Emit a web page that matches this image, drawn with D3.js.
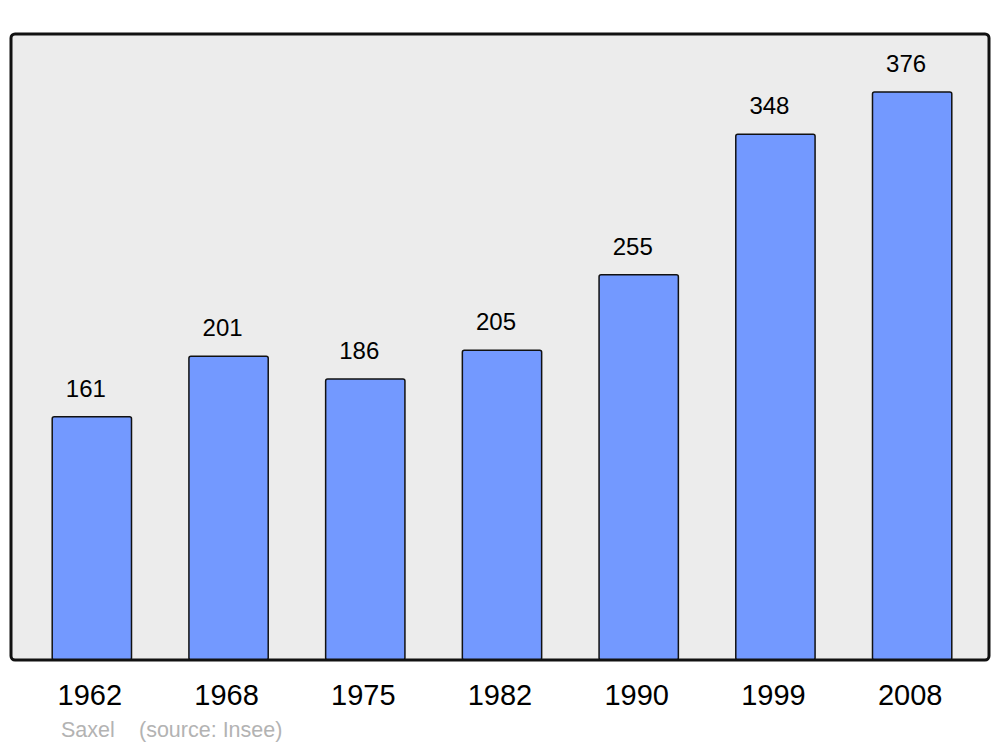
<!DOCTYPE html>
<html lang="fr">
<head>
<meta charset="utf-8">
<script src="https://cdn.jsdelivr.net/npm/d3@7/dist/d3.min.js"></script>
<style>
  body { margin: 0; background: #fff; }
  text { font-family: "Liberation Sans", Arial, sans-serif; }
</style>
</head>
<body>
<div id="chart"></div>
<script>
const years = ["1962", "1968", "1975", "1982", "1990", "1999", "2008"];
const population = [161, 201, 186, 205, 255, 348, 376];
const credits = ["Saxel", "(source: Insee)"];

const width = 1000, height = 747;

const svg = d3.select("#chart").append("svg")
    .attr("width", width)
    .attr("height", height);

// frame background
svg.append("rect")
    .attr("x", 11).attr("y", 34)
    .attr("width", 978).attr("height", 626)
    .attr("rx", 4)
    .style("fill", "#ececec");

const x = d3.scaleBand()
    .domain(years)
    .range([23.5, 980.5])
    .paddingInner(0.42)
    .paddingOuter(0.21);

const y = d3.scaleLinear()
    .domain([0, 376])
    .range([660, 92]);

const data = years.map((yr, i) => ({ year: yr, value: population[i] }));

svg.selectAll(".bar")
    .data(data)
    .enter()
    .append("rect")
    .attr("class", "bar")
    .attr("x", d => x(d.year))
    .attr("y", d => y(d.value))
    .attr("width", x.bandwidth())
    .attr("height", d => y(0) - y(d.value))
    .attr("rx", 2)
    .style("fill", "#7399ff")
    .style("stroke", "#111")
    .style("stroke-width", 1.5);

// value labels
svg.selectAll(".val")
    .data(data)
    .enter()
    .append("text")
    .attr("x", d => x(d.year) + x.bandwidth() / 2 - 6)
    .attr("y", d => y(d.value) - 20)
    .attr("text-anchor", "middle")
    .style("font-size", "24px")
    .style("fill", "#000")
    .text(d => d.value);

// frame outline on top, covers bar bottoms
svg.append("rect")
    .attr("x", 11).attr("y", 34)
    .attr("width", 978).attr("height", 626)
    .attr("rx", 4)
    .style("fill", "none")
    .style("stroke", "#111")
    .style("stroke-width", 3);

// year labels
svg.selectAll(".year")
    .data(years)
    .enter()
    .append("text")
    .attr("x", d => x(d) + x.bandwidth() / 2 - 2)
    .attr("y", 705)
    .attr("text-anchor", "middle")
    .style("font-size", "29px")
    .style("fill", "#000")
    .text(d => d);

svg.append("text")
    .attr("x", 61).attr("y", 737)
    .style("font-size", "21.5px")
    .style("fill", "#b3b3b3")
    .text(credits[0]);

svg.append("text")
    .attr("x", 139).attr("y", 737)
    .style("font-size", "21.5px")
    .style("fill", "#b3b3b3")
    .text(credits[1]);
</script>
</body>
</html>
